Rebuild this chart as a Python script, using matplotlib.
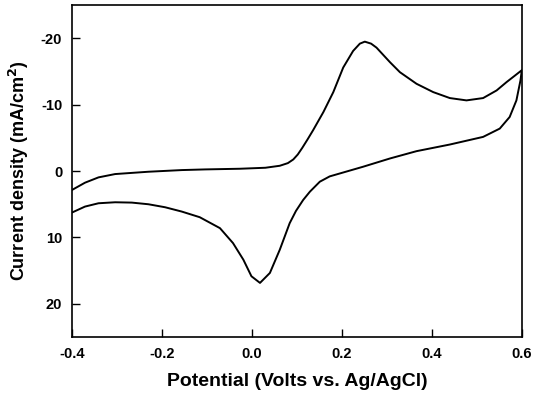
import matplotlib
matplotlib.use("Agg")
from matplotlib import pyplot as plt

# cyclic voltammogram: anodic sweep (-0.4 -> 0.6 V) then cathodic sweep back
potential = [-0.4, -0.371, -0.341, -0.304, -0.23, -0.156, -0.104, -0.027, 0.030, 0.062,
             0.080, 0.092, 0.102, 0.112, 0.124, 0.136, 0.159, 0.181, 0.203, 0.225,
             0.240, 0.251, 0.265, 0.277, 0.307, 0.329, 0.366, 0.403, 0.44, 0.477,
             0.514, 0.544, 0.566, 0.584, 0.6,
             0.597, 0.588, 0.573, 0.551, 0.514, 0.44, 0.366, 0.307, 0.247, 0.196,
             0.173, 0.151, 0.129, 0.114, 0.098, 0.084, 0.062, 0.04, 0.018, -0.001,
             -0.019, -0.042, -0.071, -0.116, -0.156, -0.193, -0.23, -0.267, -0.304,
             -0.341, -0.371, -0.4]
current = [2.85, 1.75, 0.95, 0.45, 0.1, -0.15, -0.25, -0.35, -0.5, -0.8,
           -1.2, -1.75, -2.5, -3.5, -4.8, -6.15, -8.9, -11.9, -15.6, -18.1,
           -19.2, -19.5, -19.2, -18.6, -16.4, -14.9, -13.15, -11.9, -11.0, -10.65,
           -11.0, -12.15, -13.4, -14.35, -15.2,
           -13.65, -10.65, -8.15, -6.4, -5.15, -4.0, -3.0, -1.9, -0.65, 0.35,
           0.8, 1.6, 3.1, 4.35, 6.0, 7.85, 11.85, 15.35, 16.85, 15.85,
           13.35, 10.85, 8.6, 6.95, 6.1, 5.45, 5.0, 4.75, 4.7,
           4.85, 5.35, 6.25]

xticks = [-0.4, -0.2, 0.0, 0.2, 0.4, 0.6]
yticks = [-20, -10, 0, 10, 20]

plt.rcParams['font.family'] = ['Liberation Sans', 'DejaVu Sans']
plt.rcParams['font.weight'] = 'bold'
plt.rcParams['axes.unicode_minus'] = False

fig = plt.figure(figsize=(5.33, 3.96), dpi=100)
ax = fig.add_axes([0.135, 0.149, 0.844, 0.838])
ax.plot(potential, current, color='black', linewidth=1.4,
        solid_joinstyle='round', solid_capstyle='round')
ax.set_xlim(-0.4, 0.6)
ax.set_ylim(25, -25)
ax.set_xticks(xticks)
ax.set_xticklabels(['%.1f' % v for v in xticks])
ax.set_yticks(yticks)
ax.tick_params(direction='in', length=6, width=1, labelsize=10.5, pad=7)
for s in ax.spines.values():
    s.set_linewidth(1.2)
ax.set_xlabel('Potential (Volts vs. Ag/AgCl)', fontsize=14, fontweight='bold', labelpad=9)
ax.set_ylabel('Current density (mA/cm$^\\mathbf{2}$)', fontsize=13, fontweight='bold', labelpad=7)
fig.savefig('out.png', dpi=100)
